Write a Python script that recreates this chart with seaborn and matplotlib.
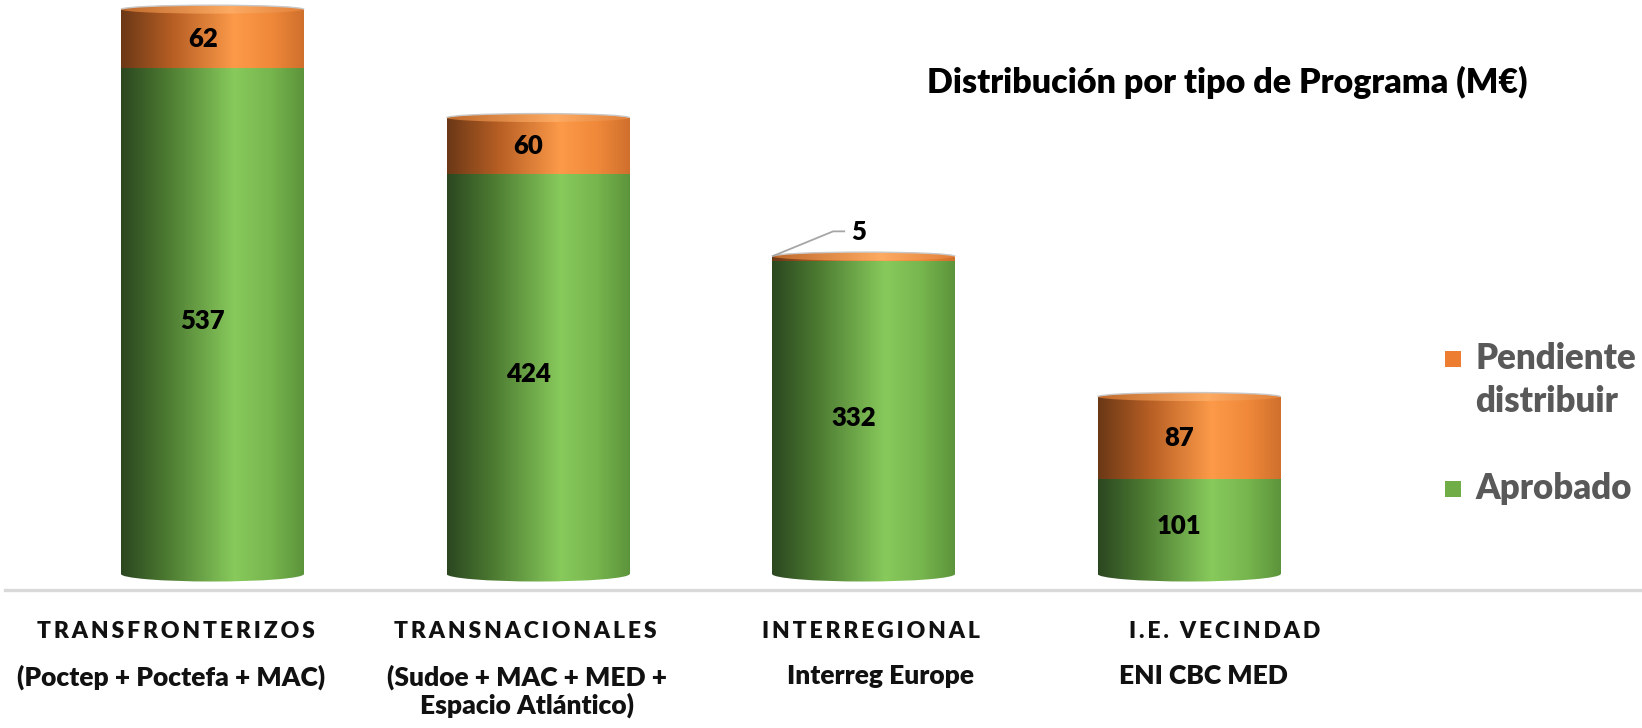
import numpy as np
import pandas as pd
import matplotlib
matplotlib.use("Agg")
import matplotlib.pyplot as plt
import seaborn as sns
from matplotlib.colors import LinearSegmentedColormap
from matplotlib.patches import Ellipse, Arc, Rectangle

# ---- data -------------------------------------------------------------
categories = ["TRANSFRONTERIZOS", "TRANSNACIONALES", "INTERREGIONAL", "I.E. VECINDAD"]
subtitles = ["(Poctep + Poctefa + MAC)",
             "(Sudoe + MAC + MED +\nEspacio Atlántico)",
             "Interreg Europe",
             "ENI CBC MED"]
aprobado = [537, 424, 332, 101]
pendiente = [62, 60, 5, 87]
series_names = ["Pendiente\ndistribuir", "Aprobado"]
title = "Distribución por tipo de Programa (M€)"

# ---- style ------------------------------------------------------------
sns.set_theme(style="white")
FONT = ["Lato", "DejaVu Sans"]
plt.rcParams["font.family"] = FONT

ORANGE = "#ED7D31"
GREEN = "#70AD47"
green_cmap = LinearSegmentedColormap.from_list(
    "cyl_green", [(0.0, "#2b4720"), (0.25, "#4c7a31"), (0.62, "#88ca5c"),
                  (0.82, "#77b54e"), (1.0, "#5c943b")])
orange_cmap = LinearSegmentedColormap.from_list(
    "cyl_orange", [(0.0, "#6b3816"), (0.28, "#b65e24"), (0.62, "#fc9a49"),
                   (0.82, "#f0893a"), (1.0, "#cf702d")])
top_cmap = LinearSegmentedColormap.from_list(
    "cyl_top", [(0.0, "#c06a2c"), (0.6, "#fdaa62"), (1.0, "#e2813a")])

df = pd.DataFrame({"cat": categories, "aprobado": aprobado, "pendiente": pendiente})
df["total"] = df["aprobado"] + df["pendiente"]

FW, FH = 1642, 728
fig = plt.figure(figsize=(FW / 100, FH / 100), dpi=100)
ax = fig.add_axes([5 / FW, 138 / FH, 1635 / FW, 590 / FH])

BAR_W = 0.562
sns.barplot(data=df, x="cat", y="total", color=ORANGE, width=BAR_W,
            saturation=1, ax=ax, zorder=1)
sns.barplot(data=df, x="cat", y="aprobado", color=GREEN, width=BAR_W,
            saturation=1, ax=ax, zorder=1)

XLIM = (-0.6375, 4.385)
YLIM = (-17, 609)
ax.set_xlim(*XLIM)
ax.set_ylim(*YLIM)

n = len(categories)
total_patches = ax.patches[:n]
green_patches = ax.patches[n:2 * n]
grad = np.linspace(0, 1, 256).reshape(1, -1)


def shade(clip, cmap, extent, z):
    im = ax.imshow(grad, cmap=cmap, extent=extent, aspect="auto",
                   interpolation="bicubic", zorder=z)
    im.set_clip_path(clip)
    return im


BOTTOM_B = 8.0   # half height of the base ellipse (data units)
TOP_B = 4.5      # half height of the top ellipse

for p in total_patches:
    x0, w, h = p.get_x(), p.get_width(), p.get_height()
    shade(p, orange_cmap, [x0, x0 + w, 0, h], 2)
    top = Ellipse((x0 + w / 2, h), w, 2 * TOP_B, facecolor="none",
                  edgecolor="none")
    ax.add_patch(top)
    shade(top, top_cmap, [x0, x0 + w, h - TOP_B, h + TOP_B], 4)
    ax.add_patch(Arc((x0 + w / 2, h), w, 2 * TOP_B, theta1=0, theta2=180,
                     color="#c8c8c8", lw=1.0, zorder=5))

for p in green_patches:
    x0, w, h = p.get_x(), p.get_width(), p.get_height()
    shade(p, green_cmap, [x0, x0 + w, 0, h], 3)
    base = Ellipse((x0 + w / 2, 0), w, 2 * BOTTOM_B, facecolor="none",
                   edgecolor="none")
    ax.add_patch(base)
    shade(base, green_cmap, [x0, x0 + w, -BOTTOM_B, 0], 3)

for p in ax.patches[:2 * n]:
    p.set_facecolor("none")

ax.set_xlim(*XLIM)
ax.set_ylim(*YLIM)

# ---- value labels -----------------------------------------------------
VAL_FS = 18.5
VAL_W = "heavy"
for i, (a, pnd) in enumerate(zip(aprobado, pendiente)):
    ax.text(i - 0.03, a / 2, f"{a}", ha="center", va="center", fontsize=VAL_FS,
            fontweight=VAL_W, color="black", zorder=6)
    if pnd >= 20:
        ax.text(i - 0.03, a + pnd / 2, f"{pnd}", ha="center", va="center",
                fontsize=VAL_FS, fontweight=VAL_W, color="black", zorder=6)
    else:
        # thin segment: label placed above with a leader line
        p = total_patches[i]
        anchor = ax.transData.transform((p.get_x(), a + pnd))
        pts = np.array([anchor, anchor + [61, 25], anchor + [73, 25]])
        dpts = ax.transData.inverted().transform(pts)
        ax.plot(dpts[:, 0], dpts[:, 1], color="#a6a6a6", lw=1.3, zorder=6,
                solid_capstyle="butt")
        tx = ax.transData.inverted().transform(anchor + [87, 24])
        ax.text(tx[0], tx[1], f"{pnd}", ha="center", va="center",
                fontsize=VAL_FS, fontweight=VAL_W, color="black", zorder=6)

# ---- axes cosmetics -----------------------------------------------------
for side in ["top", "left", "right"]:
    ax.spines[side].set_visible(False)
ax.spines["bottom"].set_color("#d9d9d9")
ax.spines["bottom"].set_linewidth(2.4)
ax.set_xticks([])
ax.set_yticks([])
ax.set_xlabel("")
ax.set_ylabel("")
ax.set_facecolor("none")

# ---- category labels --------------------------------------------------
cat_x = [176, 525, 871, 1225]
sub_x = [171, 527, 880, 1203]
for name, sub, cx, sx in zip(categories, subtitles, cat_x, sub_x):
    spaced = "\u2009".join(name)
    fig.text(cx / FW, 1 - 631 / FH, spaced, ha="center", va="center",
             fontsize=16.5, fontweight="heavy", color="#111111")
    fig.text(sx / FW, 1 - 664 / FH, sub, ha="center", va="top",
             fontsize=19, fontweight="heavy", color="#111111",
             linespacing=1.12)

# ---- title ------------------------------------------------------------
fig.text(1227 / FW, 1 - 82 / FH, title, ha="center", va="center",
         fontsize=24.5, fontweight="heavy", color="black")

# ---- legend -----------------------------------------------------------
leg_rows = [(ORANGE, series_names[0], 359), (GREEN, series_names[1], 489)]
for col, lab, yc in leg_rows:
    fig.patches.append(Rectangle((1445 / FW, 1 - (yc + 8) / FH), 16 / FW,
                                 16 / FH, transform=fig.transFigure,
                                 facecolor=col, edgecolor="none"))
    fig.text(1475 / FW, 1 - (yc - 17) / FH, lab, ha="left", va="top",
             fontsize=25, fontweight="heavy", color="#595959",
             linespacing=1.38)

fig.savefig("out.png", dpi=100, facecolor="white")
